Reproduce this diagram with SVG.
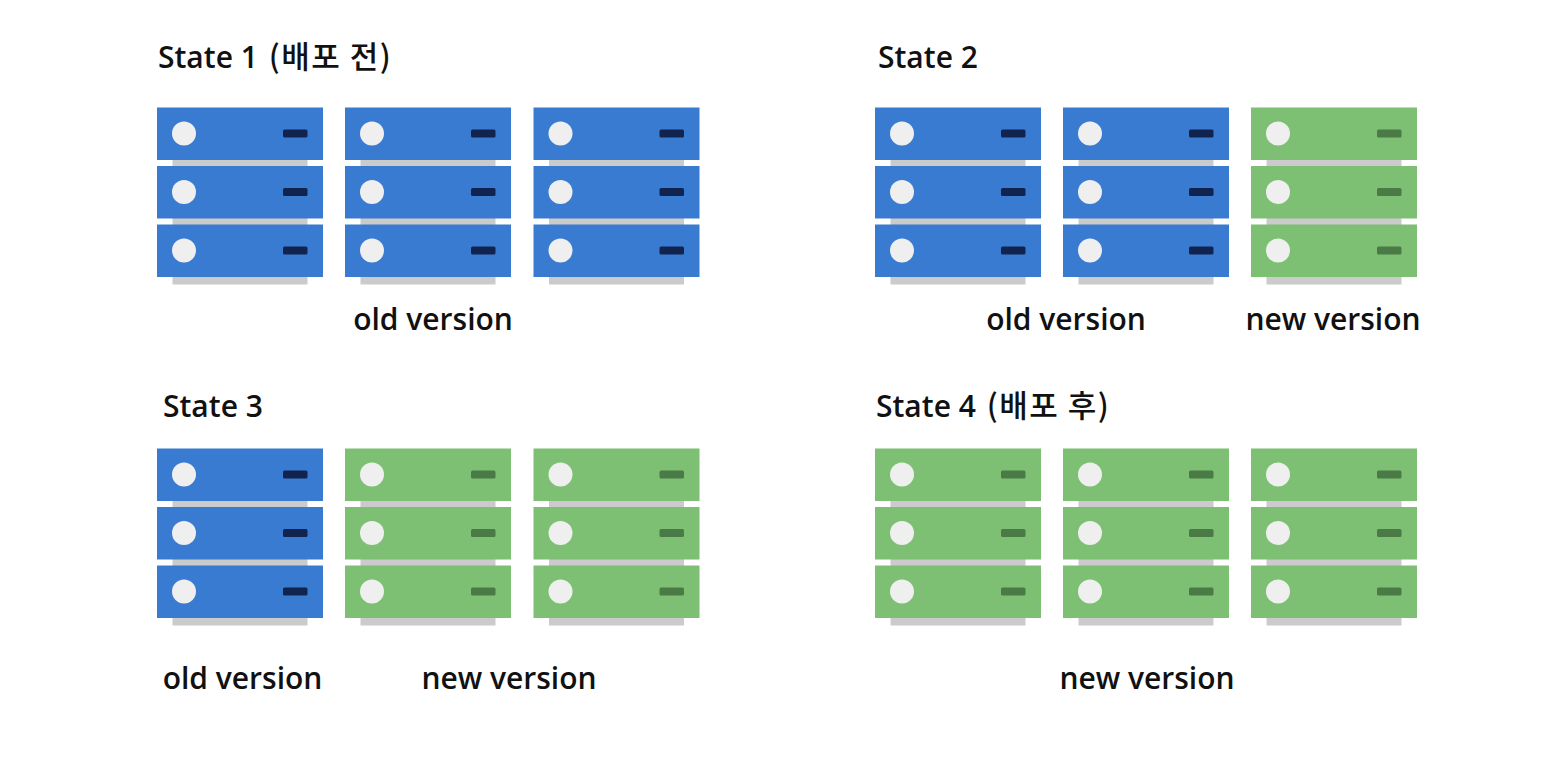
<svg xmlns="http://www.w3.org/2000/svg" xmlns:xlink="http://www.w3.org/1999/xlink" width="1564" height="764" viewBox="0 0 1564 764">
<style>
.title{font-family:"Open Sans","Noto Sans CJK KR",sans-serif;font-size:30px;font-weight:600;fill:#111}
.ko{font-family:"Noto Sans CJK KR",sans-serif;font-size:31px;font-weight:500;letter-spacing:1.5px}
.label{font-family:"Open Sans","Noto Sans CJK KR",sans-serif;font-size:30px;font-weight:600;fill:#111;text-anchor:middle}
.base{fill:#cbcbcb}
.dot{fill:#efefef}
.blue{fill:#3a7bd2;color:#10244f}
.green{fill:#7dc073;color:#4a7a46}
</style>
<defs>
<g id="unit">
<rect x="0" y="0" width="166" height="52.5"/>
<circle class="dot" cx="27" cy="26" r="12"/>
<rect x="126" y="22" width="24.5" height="8" rx="1.5" fill="currentColor"/>
</g>
<g id="stack">
<rect class="base" x="15.5" y="10" width="135" height="167"/>
<use xlink:href="#unit" y="0"/>
<use xlink:href="#unit" y="58.5"/>
<use xlink:href="#unit" y="117"/>
</g>
</defs>
<rect width="1564" height="764" fill="#fff"/>

<g id="state1">
<text class="title" x="158" y="68">State 1 <tspan class="ko" dx="3">(배포 전)</tspan></text>
<use class="blue" xlink:href="#stack" x="157" y="107.5"/>
<use class="blue" xlink:href="#stack" x="345" y="107.5"/>
<use class="blue" xlink:href="#stack" x="533.5" y="107.5"/>
<text class="label" x="433" y="330">old version</text>
</g>

<g id="state2">
<text class="title" x="878" y="68">State 2</text>
<use class="blue" xlink:href="#stack" x="875" y="107.5"/>
<use class="blue" xlink:href="#stack" x="1063" y="107.5"/>
<use class="green" xlink:href="#stack" x="1251" y="107.5"/>
<text class="label" x="1066" y="330">old version</text>
<text class="label" x="1333" y="330">new version</text>
</g>

<g id="state3">
<text class="title" x="163" y="417">State 3</text>
<use class="blue" xlink:href="#stack" x="157" y="448.5"/>
<use class="green" xlink:href="#stack" x="345" y="448.5"/>
<use class="green" xlink:href="#stack" x="533.5" y="448.5"/>
<text class="label" x="242.5" y="689">old version</text>
<text class="label" x="509" y="689">new version</text>
</g>

<g id="state4">
<text class="title" x="876" y="417">State 4 <tspan class="ko" dx="3">(배포 후)</tspan></text>
<use class="green" xlink:href="#stack" x="875" y="448.5"/>
<use class="green" xlink:href="#stack" x="1063" y="448.5"/>
<use class="green" xlink:href="#stack" x="1251" y="448.5"/>
<text class="label" x="1147" y="689">new version</text>
</g>

<g id="connectors"/>
</svg>
